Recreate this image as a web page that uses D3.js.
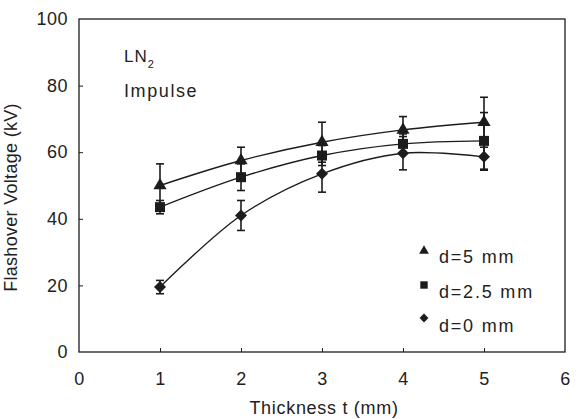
<!DOCTYPE html>
<html>
<head>
<meta charset="utf-8">
<script src="https://cdn.jsdelivr.net/npm/d3@7"></script>
<style>
  body { margin: 0; background: #fff; }
  svg text { font-family: "Liberation Sans", Arial, sans-serif; fill: #222; }
</style>
</head>
<body>
<svg id="chart" width="576" height="419"></svg>
<script>
// data
const thickness = [1, 2, 3, 4, 5];
const seriesNames = ["d=5 mm", "d=2.5 mm", "d=0 mm"];
const d5 = [50, 57.5, 63, 66.7, 69];
const d5err = [6.5, 4, 6, 4, 7.5];
const d25 = [43.5, 52.5, 59, 62.5, 63.4];
const d25err = [2, 4, 3, 3, 8.5];
const d0 = [19.5, 41, 53.5, 59.7, 58.6];
const d0err = [2, 4.5, 5.5, 5, 4];
const xTicks = [0, 1, 2, 3, 4, 5, 6];
const yTicks = [0, 20, 40, 60, 80, 100];

const svg = d3.select("#chart");
const margin = {top: 19, right: 11, bottom: 67, left: 79};
const width = 576, height = 419;
const ink = "#1c1c1c";

const x = d3.scaleLinear().domain([0, 6]).range([margin.left, width - margin.right]);
const y = d3.scaleLinear().domain([0, 100]).range([height - margin.bottom, margin.top]);

// frame
svg.append("rect")
  .attr("x", x(0)).attr("y", y(100))
  .attr("width", x(6) - x(0)).attr("height", y(0) - y(100))
  .attr("fill", "none").attr("stroke", ink).attr("stroke-width", 1.3);

// axes with inward ticks
const xAxis = svg.append("g")
  .attr("transform", `translate(0, ${y(0)})`)
  .call(d3.axisBottom(x).tickValues(xTicks).tickFormat(d3.format("d"))
    .tickSizeInner(-4).tickSizeOuter(0).tickPadding(20));
const yAxis = svg.append("g")
  .attr("transform", `translate(${x(0)}, 0)`)
  .call(d3.axisLeft(y).tickValues(yTicks).tickFormat(d3.format("d"))
    .tickSizeInner(-4).tickSizeOuter(0).tickPadding(11));
[xAxis, yAxis].forEach(g => {
  g.select(".domain").remove();
  g.selectAll("line").attr("stroke", ink);
  g.selectAll("text").style("font-size", "18px")
    .style("letter-spacing", "0.5px")
    .style("font-family", "'Liberation Sans', Arial, sans-serif").attr("fill", "#222");
});
xAxis.selectAll("line").filter(d => d === 0 || d === 6).remove();
yAxis.selectAll("line").filter(d => d === 0 || d === 100).remove();

// axis titles
svg.append("text")
  .attr("x", (x(0) + x(6)) / 2 + 2)
  .attr("y", 414)
  .attr("text-anchor", "middle")
  .style("font-size", "18px")
  .style("letter-spacing", "0.7px")
  .text("Thickness t (mm)");

svg.append("text")
  .attr("transform", `translate(17, ${(y(0) + y(100)) / 2 + 12}) rotate(-90)`)
  .attr("text-anchor", "middle")
  .style("font-size", "18px")
  .style("letter-spacing", "0.3px")
  .text("Flashover Voltage (kV)");

// annotation
const ann = svg.append("text").attr("x", 124).attr("y", 62)
  .style("font-size", "17px").style("letter-spacing", "1px");
ann.append("tspan").text("LN");
ann.append("tspan").attr("dy", 6).style("font-size", "11px").text("2");
svg.append("text").attr("x", 124).attr("y", 97)
  .style("font-size", "18px").style("letter-spacing", "1.6px").text("Impulse");

// series
const series = [
  {name: seriesNames[0], values: d5, err: d5err, symbol: d3.symbolTriangle, size: 75, rot: 0},
  {name: seriesNames[1], values: d25, err: d25err, symbol: d3.symbolSquare, size: 100, rot: 0},
  {name: seriesNames[2], values: d0, err: d0err, symbol: d3.symbolSquare, size: 72, rot: 45}
];

const line = d3.line()
  .x(d => x(d.t))
  .y(d => y(d.v))
  .curve(d3.curveCatmullRom.alpha(0.5));

series.forEach(s => {
  const pts = thickness.map((t, i) => ({t: t, v: s.values[i], e: s.err[i]}));

  svg.append("path")
    .datum(pts)
    .attr("d", line)
    .attr("fill", "none")
    .attr("stroke", ink)
    .attr("stroke-width", 1.4);

  const eb = svg.append("g").attr("stroke", ink).attr("stroke-width", 1.6);
  eb.selectAll(".v").data(pts).enter().append("line")
    .attr("x1", d => x(d.t)).attr("x2", d => x(d.t))
    .attr("y1", d => y(d.v - d.e)).attr("y2", d => y(d.v + d.e));
  eb.selectAll(".top").data(pts).enter().append("line")
    .attr("x1", d => x(d.t) - 4).attr("x2", d => x(d.t) + 4)
    .attr("y1", d => y(d.v + d.e)).attr("y2", d => y(d.v + d.e));
  eb.selectAll(".bot").data(pts).enter().append("line")
    .attr("x1", d => x(d.t) - 4).attr("x2", d => x(d.t) + 4)
    .attr("y1", d => y(d.v - d.e)).attr("y2", d => y(d.v - d.e));

  svg.selectAll(null).data(pts).enter().append("path")
    .attr("d", d3.symbol().type(s.symbol).size(s.size))
    .attr("transform", d => `translate(${x(d.t)}, ${y(d.v)}) rotate(${s.rot})`)
    .attr("fill", ink);
});

// legend
const legendY = [263, 298, 332];
const legendMarkY = [251, 285, 318];
series.forEach((s, i) => {
  svg.append("path")
    .attr("d", d3.symbol().type(s.symbol).size(s.size * 0.55))
    .attr("transform", `translate(424, ${legendMarkY[i]}) rotate(${s.rot})`)
    .attr("fill", ink);
  svg.append("text")
    .attr("x", 439)
    .attr("y", legendY[i])
    .style("font-size", "18px")
    .style("letter-spacing", "1.8px")
    .text(s.name);
});
</script>
</body>
</html>
